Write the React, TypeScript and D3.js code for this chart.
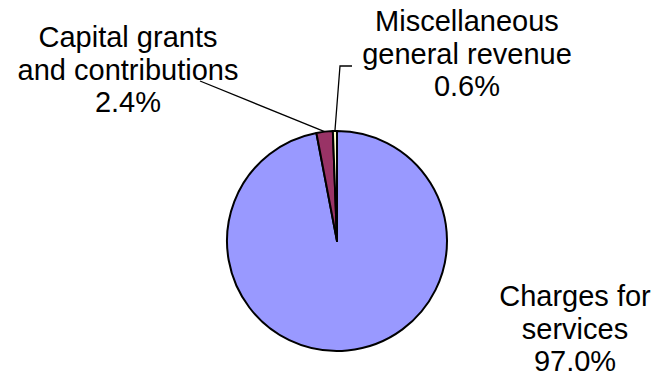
import React from "react";
import * as d3 from "d3";

const categories = ["Charges for services", "Capital grants and contributions", "Miscellaneous general revenue"];
const values = [97.0, 2.4, 0.6];
const colors = ["#9999FF", "#993366", "#FFFFCC"];
const labelLines = [
  ["Charges for", "services", "97.0%"],
  ["Capital grants", "and contributions", "2.4%"],
  ["Miscellaneous", "general revenue", "0.6%"],
];

const W = 661;
const H = 377;
const cx = 337;
const cy = 241;
const R = 110;
const fontSize = 29;
const lineH = 32.5;
// label anchor (center x, first baseline y)
const labelPos = [
  [575, 306],
  [128, 47],
  [467, 31],
];

export default function App() {
  const pie = d3.pie<number>().sort(null).value((d) => d);
  const arcs = pie(values);
  const arc = d3.arc<d3.PieArcDatum<number>>().innerRadius(0).outerRadius(R);
  const edge = (a: d3.PieArcDatum<number>) => {
    const m = (a.startAngle + a.endAngle) / 2;
    return [cx + R * Math.sin(m), cy - R * Math.cos(m)];
  };
  const capEdge = edge(arcs[1]);
  const miscEdge = edge(arcs[2]);
  return (
    <svg
      width={W}
      height={H}
      style={{ position: "absolute", left: 0, top: 0, background: "#fff" }}
      fontFamily="'Liberation Sans', Arial, sans-serif"
    >
      <g transform={`translate(${cx},${cy})`}>
        {arcs.map((a, i) => (
          <path key={i} d={arc(a) || ""} fill={colors[i]} stroke="#000" strokeWidth={2} strokeLinejoin="round" />
        ))}
      </g>
      <polyline
        points={`200,81 ${capEdge[0]},${capEdge[1]}`}
        fill="none"
        stroke="#000"
        strokeWidth={1.3}
      />
      <polyline
        points={`352,66 340,66 ${miscEdge[0]},${miscEdge[1]}`}
        fill="none"
        stroke="#000"
        strokeWidth={1.3}
      />
      {labelLines.map((lines, i) => (
        <text key={i} textAnchor="middle" fontSize={fontSize} fill="#000">
          {lines.map((l, j) => (
            <tspan key={j} x={labelPos[i][0]} y={labelPos[i][1] + j * lineH}>
              {l}
            </tspan>
          ))}
        </text>
      ))}
    </svg>
  );
}
